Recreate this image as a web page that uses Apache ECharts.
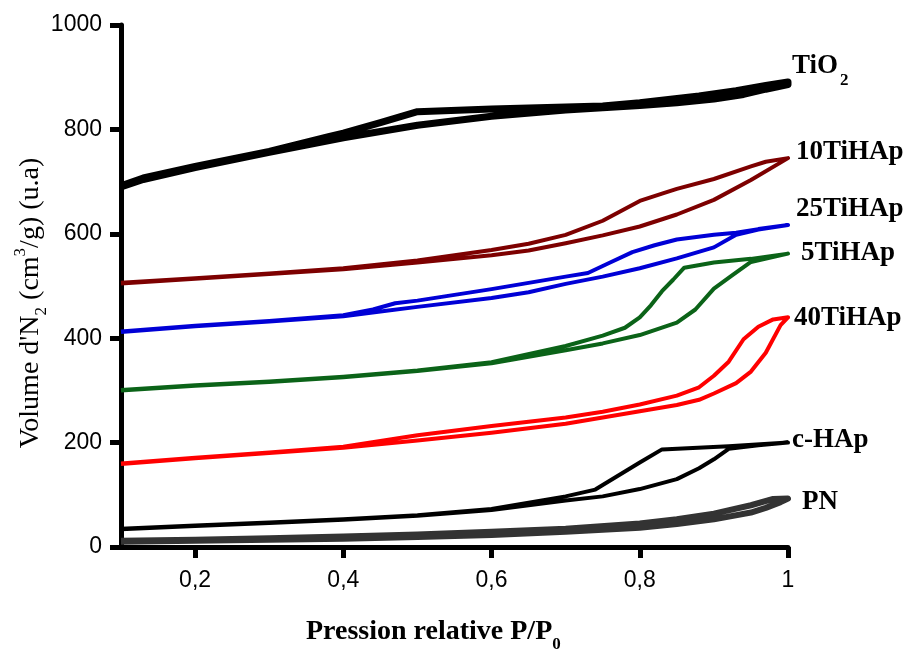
<!DOCTYPE html>
<html>
<head>
<meta charset="utf-8">
<script src="https://cdn.jsdelivr.net/npm/echarts@6/dist/echarts.min.js"></script>
<style>html,body{margin:0;padding:0;background:#fff}#c{width:909px;height:650px}</style>
</head>
<body>
<div id="c"></div>
<script>
// ---- data: [P/P0, volume] adsorption (lower) then desorption (upper) ----
const xTicks = [0.2, 0.4, 0.6, 0.8, 1];
const yTicks = [0, 200, 400, 600, 800, 1000];

const tio2Ads = [[0.1,690],[0.13,704],[0.2,727],[0.3,756],[0.4,784],[0.5,808],[0.6,825],[0.7,837],[0.8,846],[0.85,851],[0.9,858],[0.94,867],[0.97,877],[1.0,886]];
const tio2Des = [[1.0,891],[0.97,884],[0.93,874],[0.88,864],[0.8,851],[0.75,845],[0.6,839],[0.5,834],[0.45,813],[0.4,793],[0.38,786],[0.3,758],[0.2,729],[0.13,707],[0.1,692]];

const ti10Ads = [[0.1,505],[0.2,514],[0.3,523],[0.4,532],[0.5,545],[0.6,559],[0.65,568],[0.7,582],[0.75,597],[0.8,614],[0.85,637],[0.9,665],[0.95,703],[1.0,745]];
const ti10Des = [[1.0,745],[0.97,738],[0.95,729],[0.9,705],[0.85,686],[0.83,677],[0.8,663],[0.75,625],[0.7,598],[0.65,581],[0.6,569],[0.5,549],[0.4,534],[0.3,524],[0.2,515],[0.1,506]];

const ti25Ads = [[0.1,412],[0.2,423],[0.3,432],[0.4,442],[0.45,451],[0.5,460],[0.6,477],[0.65,488],[0.7,504],[0.75,518],[0.8,534],[0.85,553],[0.9,574],[0.93,598],[0.96,608],[1.0,617]];
const ti25Des = [[1.0,617],[0.96,609],[0.93,602],[0.9,598],[0.85,589],[0.82,578],[0.79,565],[0.76,545],[0.73,525],[0.7,518],[0.6,494],[0.5,472],[0.47,467],[0.44,455],[0.4,444],[0.3,433],[0.2,424],[0.1,413]];

const ti5Ads = [[0.1,300],[0.2,309],[0.3,316],[0.4,325],[0.5,337],[0.6,352],[0.7,377],[0.75,390],[0.8,406],[0.85,430],[0.875,455],[0.9,495],[0.925,521],[0.95,546],[1.0,562]];
const ti5Des = [[1.0,562],[0.95,552],[0.9,545],[0.86,535],[0.845,512],[0.83,490],[0.815,463],[0.8,440],[0.78,420],[0.75,405],[0.7,385],[0.6,354],[0.5,338],[0.4,326],[0.3,317],[0.2,310],[0.1,301]];

const ti40Ads = [[0.1,159],[0.2,170],[0.3,180],[0.4,190],[0.5,204],[0.6,219],[0.7,236],[0.75,248],[0.8,260],[0.85,272],[0.88,282],[0.9,294],[0.93,314],[0.95,336],[0.97,372],[0.99,425],[1.0,440]];
const ti40Des = [[1.0,440],[0.98,436],[0.96,422],[0.94,398],[0.92,355],[0.9,328],[0.88,306],[0.85,290],[0.8,273],[0.75,259],[0.7,248],[0.6,232],[0.5,214],[0.45,203],[0.4,192],[0.3,181],[0.2,171],[0.1,160]];

const chapAds = [[0.1,34],[0.2,40],[0.3,46],[0.4,52],[0.5,60],[0.6,71],[0.7,89],[0.75,97],[0.8,111],[0.85,130],[0.88,151],[0.9,168],[0.92,188],[0.96,195],[1.0,200]];
const chapDes = [[1.0,200],[0.92,193],[0.83,187],[0.8,162],[0.74,110],[0.7,97],[0.6,73],[0.5,61],[0.4,53],[0.3,47],[0.2,41],[0.1,35]];

const pnAds = [[0.1,10],[0.2,12],[0.3,14],[0.4,16],[0.5,19],[0.6,23],[0.7,29],[0.8,37],[0.85,44],[0.9,53],[0.95,66],[0.97,75],[0.99,86],[1.0,93]];
const pnDes = [[1.0,96],[0.98,92],[0.95,80],[0.9,64],[0.85,53],[0.8,45],[0.7,35],[0.6,29],[0.5,24],[0.4,20],[0.3,17],[0.2,14],[0.1,12]];

const SERIF = '"Liberation Serif","Times New Roman",serif';
const SANS = '"Liberation Sans",Arial,sans-serif';

function loop(name, ads, des, color, width) {
  return {
    name: name, type: 'line', data: ads.concat(des),
    showSymbol: false, symbol: 'none', smooth: false, silent: true,
    lineStyle: { color: color, width: width, join: 'round', cap: 'butt' }
  };
}

const chart = echarts.init(document.getElementById('c'), null, { renderer: 'canvas' });
chart.setOption({
  animation: false,
  backgroundColor: '#fff',
  grid: { left: 121, right: 121, top: 25, bottom: 103 },
  xAxis: {
    type: 'value', min: 0.1, max: 1,
    axisLine: { show: true, onZero: false, lineStyle: { color: '#000', width: 5 } },
    axisTick: { show: true, length: 11, customValues: xTicks, lineStyle: { color: '#000', width: 5 } },
    axisLabel: { customValues: xTicks, margin: 22, color: '#000', fontSize: 23, fontFamily: SANS,
      formatter: v => String(v).replace('.', ',') },
    splitLine: { show: false }
  },
  yAxis: {
    type: 'value', min: 0, max: 1000, interval: 200,
    axisLine: { show: true, onZero: false, lineStyle: { color: '#000', width: 5 } },
    axisTick: { show: true, length: 11, customValues: yTicks, lineStyle: { color: '#000', width: 5 } },
    axisLabel: { customValues: yTicks, margin: 19, color: '#000', fontSize: 23, fontFamily: SANS,
      formatter: v => String(v) },
    splitLine: { show: false }
  },
  series: [
    loop('PN', pnAds, pnDes, '#333333', 6),
    loop('c-HAp', chapAds, chapDes, '#000000', 4),
    loop('40TiHAp', ti40Ads, ti40Des, '#ff0000', 4),
    loop('5TiHAp', ti5Ads, ti5Des, '#0b6318', 4),
    loop('25TiHAp', ti25Ads, ti25Des, '#0000d6', 4),
    loop('10TiHAp', ti10Ads, ti10Des, '#7d0000', 4),
    loop('TiO2', tio2Ads, tio2Des, '#000000', 7)
  ],
  graphic: [
    { type: 'text', x: 31, y: 303, rotation: Math.PI / 2, silent: true,
      style: { text: "{m|Volume d'N}{b|2}{m| (cm}{p|3}{m|/g) (u.a)}", textAlign: 'center', textVerticalAlign: 'middle',
        rich: {
          m: { fontSize: 28, fontFamily: SERIF, fill: '#000', lineHeight: 30 },
          b: { fontSize: 17, fontFamily: SERIF, fill: '#000', lineHeight: 17, padding: [22, 0, 0, 0] },
          p: { fontSize: 17, fontFamily: SERIF, fill: '#000', lineHeight: 17, padding: [0, 0, 20, 0] }
        } } },
    { type: 'text', x: 306, y: 632, silent: true,
      style: { text: '{m|Pression relative P/P}{b|0}', textAlign: 'left', textVerticalAlign: 'middle',
        rich: {
          m: { fontSize: 28, fontFamily: SERIF, fontWeight: 'bold', fill: '#000', lineHeight: 30 },
          b: { fontSize: 17, fontFamily: SERIF, fontWeight: 'bold', fill: '#000', lineHeight: 17, padding: [26, 0, 0, 0] }
        } } },
    { type: 'text', x: 792, y: 66, silent: true,
      style: { text: '{m|TiO}{b|2}', textAlign: 'left', textVerticalAlign: 'middle',
        rich: {
          m: { fontSize: 27, fontFamily: SERIF, fontWeight: 'bold', fill: '#000', lineHeight: 28 },
          b: { fontSize: 17, fontFamily: SERIF, fontWeight: 'bold', fill: '#000', lineHeight: 17, padding: [30, 0, 0, 2] }
        } } },
    { type: 'text', x: 796, y: 152, silent: true, style: { text: '10TiHAp', font: 'bold 27px ' + SERIF, fill: '#000', textAlign: 'left', textVerticalAlign: 'middle' } },
    { type: 'text', x: 796, y: 209, silent: true, style: { text: '25TiHAp', font: 'bold 27px ' + SERIF, fill: '#000', textAlign: 'left', textVerticalAlign: 'middle' } },
    { type: 'text', x: 801, y: 253, silent: true, style: { text: '5TiHAp', font: 'bold 27px ' + SERIF, fill: '#000', textAlign: 'left', textVerticalAlign: 'middle' } },
    { type: 'text', x: 794, y: 318, silent: true, style: { text: '40TiHAp', font: 'bold 27px ' + SERIF, fill: '#000', textAlign: 'left', textVerticalAlign: 'middle' } },
    { type: 'text', x: 792, y: 440, silent: true, style: { text: 'c-HAp', font: 'bold 27px ' + SERIF, fill: '#000', textAlign: 'left', textVerticalAlign: 'middle' } },
    { type: 'text', x: 802, y: 502, silent: true, style: { text: 'PN', font: 'bold 27px ' + SERIF, fill: '#000', textAlign: 'left', textVerticalAlign: 'middle' } }
  ]
});
</script>
</body>
</html>
